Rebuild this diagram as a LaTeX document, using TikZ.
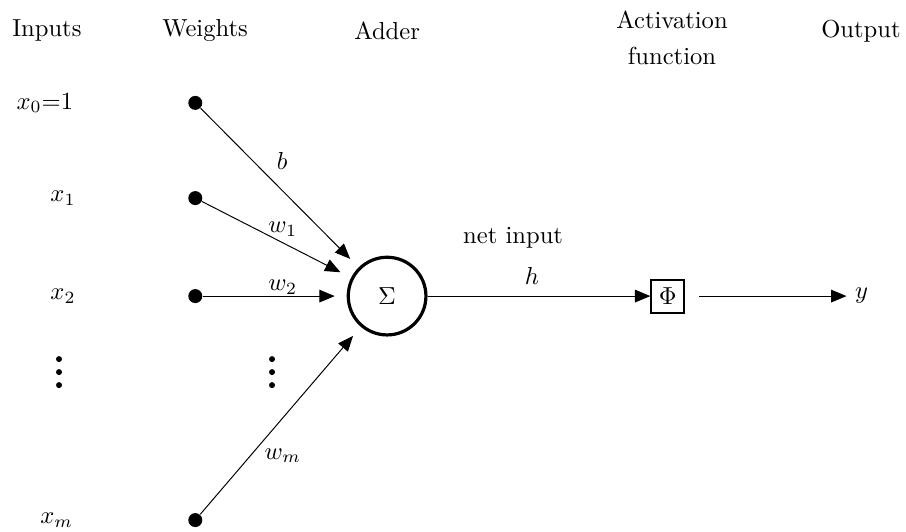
\documentclass[tikz,border=0pt]{standalone}
\usepackage{amsmath}
\usetikzlibrary{arrows.meta, positioning}

\begin{document}
\begin{tikzpicture}[
  head/.style={align=center, inner sep=0pt},
  dot/.style={circle, fill=black, inner sep=0pt, minimum size=2mm},
  adder/.style={circle, draw, line width=1.3pt, minimum size=11.1mm},
  actbox/.style={draw, thick, minimum size=4.7mm, inner sep=0pt},
  wire/.style={-{Triangle[length=2.2mm, width=1.8mm]}}
]
  \useasboundingbox (0,0) rectangle (12.943,-7.6);

  \node[head] (hin)  at (0.67,-0.44) {Inputs};
  \node[head] (hw)   at (2.93,-0.44) {Weights};
  \node[head] (hadd) at (5.53,-0.44) {Adder};
  \node[head] (hact) at (9.6,-0.54) {Activation\\[2.6pt]function};
  \node[head] (hout) at (12.3,-0.44) {Output};

  \node (x0) at (0.64,-1.47) {$x_0$=1};
  \node (x1) at (0.9,-2.83) {$x_1$};
  \node (x2) at (0.9,-4.23) {$x_2$};
  \coordinate (xd) at (0.843,-5.13);
  \node (xm) at (0.81,-7.43) {$x_m$};

  \node[dot] (d0) at (2.79,-1.47) {};
  \node[dot] (d1) at (2.79,-2.83) {};
  \node[dot] (d2) at (2.79,-4.23) {};
  \coordinate (dd) at (3.886,-5.13);
  \node[dot] (dm) at (2.79,-7.43) {};

  \foreach \k in {0,1,2} {
    \fill ([yshift=-\k*0.186cm]xd) circle (0.043);
    \fill ([yshift=-\k*0.186cm]dd) circle (0.043);
  }

  \node[adder] (sum) at (5.53,-4.23) {$\Sigma$};
  \node[actbox] (act) at (9.54,-4.23) {$\Phi$};
  \node (out) at (12.31,-4.23) {$y$};

  \node (lb)  at (4.03,-2.3) {$b$};
  \node (lw1) at (4.04,-3.27) {$w_1$};
  \node (lw2) at (4.04,-4.1) {$w_2$};
  \node (lwm) at (4.04,-6.51) {$w_m$};
  \node (net) at (7.33,-3.4) {net input};
  \node (lh)  at (7.6,-3.94) {$h$};

  \draw[wire, shorten >=1.7mm] (d0) -- (sum);
  \draw[wire, shorten >=1.7mm] (d1) -- (sum);
  \draw[wire, shorten >=1.7mm] (d2) -- (sum);
  \draw[wire, shorten >=1.7mm] (dm) -- (sum);
  \draw[wire] (sum) -- (act);
  \draw[wire, shorten <=2mm] (act) -- (out);
\end{tikzpicture}
\end{document}
